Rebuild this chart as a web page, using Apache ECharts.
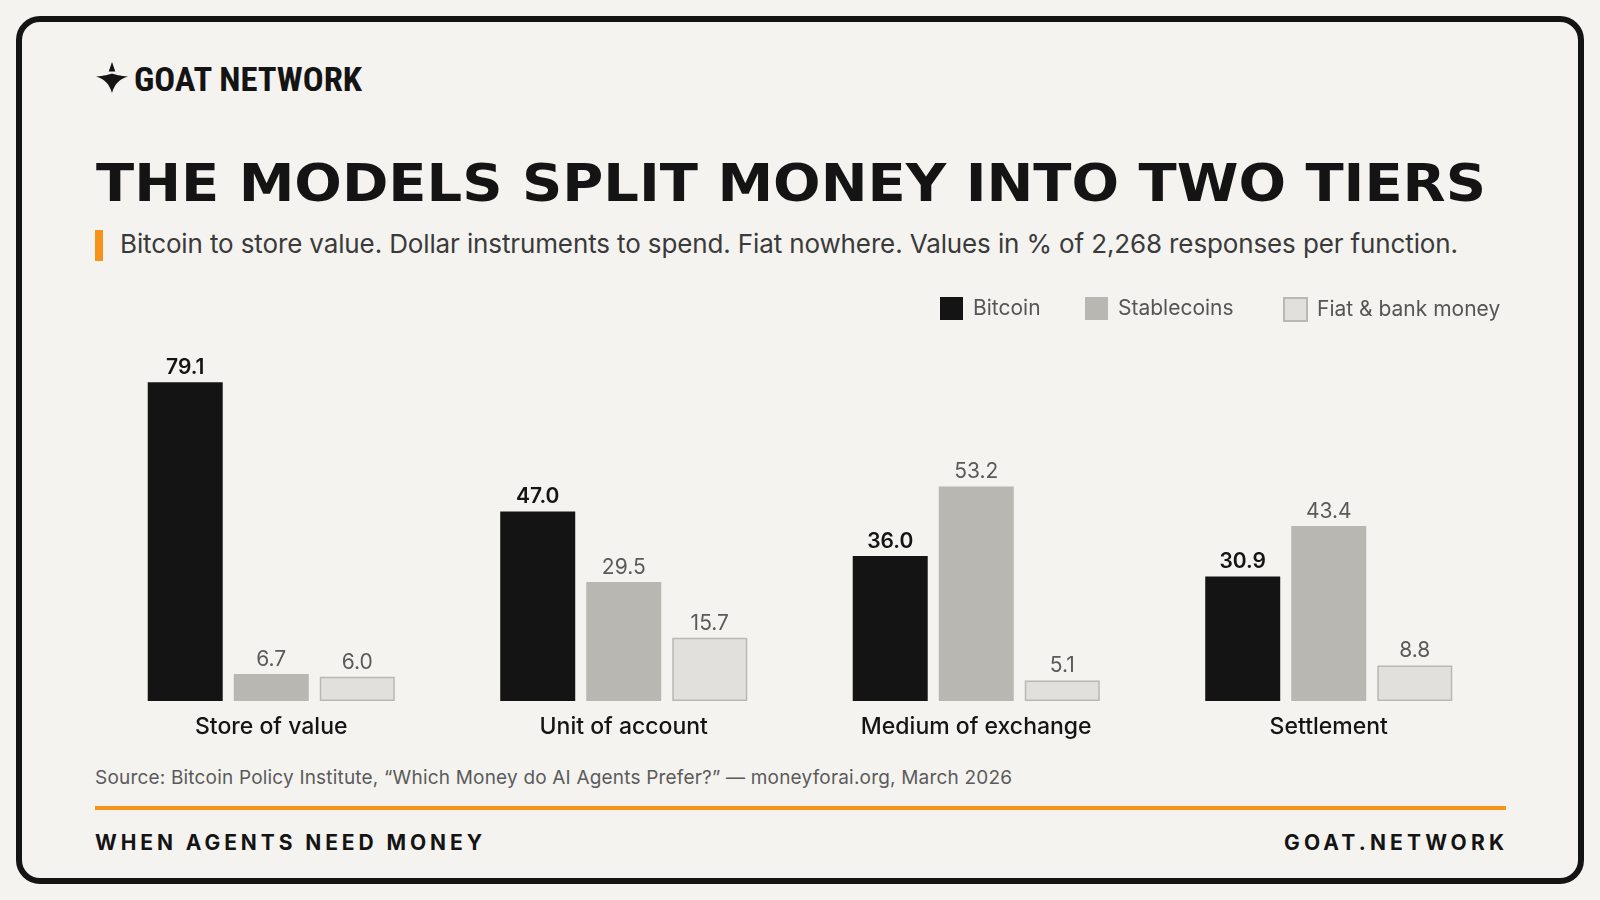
<!DOCTYPE html>
<html>
<head>
<meta charset="utf-8">
<script src="https://cdn.jsdelivr.net/npm/echarts@6/dist/echarts.min.js"></script>
<style>
  html, body { margin: 0; padding: 0; background: #f4f3ef; }
  #wrap { position: relative; width: 1600px; height: 900px; overflow: hidden; background: #f4f3ef; }
  #deco { position: absolute; left: 0; top: 0; width: 1600px; height: 900px; z-index: 1; }
  #chart { position: absolute; left: 0; top: 0; width: 1600px; height: 900px; z-index: 2; }
</style>
</head>
<body>
<div id="wrap">
<svg id="deco" width="1600" height="900" viewBox="0 0 1600 900" xmlns="http://www.w3.org/2000/svg">
  <rect x="19" y="19" width="1562" height="862" rx="21" ry="21" fill="none" stroke="#141414" stroke-width="6"/>
  <!-- logo mark -->
  <path d="M112,62 L115.3,71.5 L108.7,71.5 Z" fill="#141414"/>
  <path d="M96,76.5 C104,76 109,74.5 112,73.5 C115,74.5 120,76 128,76.5 C120,78.5 114.5,84 112,93 C109.5,84 104,78.5 96,76.5 Z" fill="#141414"/>
  <text x="134" y="91" font-family="'Roboto Condensed','Liberation Sans Narrow','DejaVu Sans Condensed',sans-serif" font-weight="700" font-size="33" fill="#141414" textLength="228" lengthAdjust="spacingAndGlyphs">GOAT NETWORK</text>
  <text x="96" y="201" font-family="'DejaVu Sans',sans-serif" font-weight="900" font-size="52" fill="#141414" textLength="1390" lengthAdjust="spacingAndGlyphs">THE MODELS SPLIT MONEY INTO TWO TIERS</text>
  <rect x="95" y="230" width="8" height="31" fill="#f7931a"/>
  <text x="120" y="253" font-family="Inter,'Noto Sans',sans-serif" font-size="26" fill="#3a3a3a" textLength="1338" lengthAdjust="spacing">Bitcoin to store value. Dollar instruments to spend. Fiat nowhere. Values in % of 2,268 responses per function.</text>
  <text x="95" y="784" font-family="Inter,'Noto Sans',sans-serif" font-size="19" fill="#5b5b5b" textLength="917" lengthAdjust="spacing">Source: Bitcoin Policy Institute, “Which Money do AI Agents Prefer?” — moneyforai.org, March 2026</text>
  <rect x="95" y="806" width="1411" height="4" fill="#f7931a"/>
  <text x="95" y="850" font-family="Inter,'Noto Sans',sans-serif" font-weight="700" font-size="21" fill="#141414" textLength="387" lengthAdjust="spacing">WHEN AGENTS NEED MONEY</text>
  <text x="1284" y="850" font-family="Inter,'Noto Sans',sans-serif" font-weight="700" font-size="21" fill="#141414" textLength="220" lengthAdjust="spacing">GOAT.NETWORK</text>
</svg>
<div id="chart"></div>
</div>
<script>
const categories = ['Store of value', 'Unit of account', 'Medium of exchange', 'Settlement'];
const seriesNames = ['Bitcoin', 'Stablecoins', 'Fiat & bank money'];
const bitcoin = [79.1, 47.0, 36.0, 30.9];
const stablecoins = [6.7, 29.5, 53.2, 43.4];
const fiat = [6.0, 15.7, 5.1, 8.8];

const FONT = "Inter, 'Noto Sans', sans-serif";
const chart = echarts.init(document.getElementById('chart'), null, { renderer: 'canvas' });

function labelStyle(bold) {
  return {
    show: true,
    position: 'top',
    distance: 4,
    fontFamily: FONT,
    fontSize: 21,
    fontWeight: bold ? 600 : 400,
    color: bold ? '#141414' : '#5a5a5a',
    formatter: p => Number(p.value).toFixed(1)
  };
}

const legendLefts = [940, 1085, 1283];
const legends = seriesNames.map((name, i) => ({
  left: legendLefts[i],
  top: 297,
  padding: 0,
  itemWidth: 23,
  itemHeight: 23,
  icon: 'rect',
  data: [name],
  textStyle: { fontFamily: FONT, fontSize: 21, color: '#555555', padding: [0, 0, 0, 5] }
}));

chart.setOption({
  backgroundColor: 'transparent',
  animation: false,
  legend: legends,
  grid: { left: 95, right: 95, top: 298, bottom: 199, containLabel: false },
  xAxis: {
    type: 'category',
    data: categories,
    axisLine: { show: false },
    axisTick: { show: false },
    axisLabel: { fontFamily: FONT, fontSize: 23, fontWeight: 500, color: '#141414', margin: 15 }
  },
  yAxis: { type: 'value', min: 0, max: 100, show: false, splitLine: { show: false } },
  series: [
    {
      name: seriesNames[0], type: 'bar', data: bitcoin, barWidth: 75, barGap: '14.7%',
      itemStyle: { color: '#141414' }, label: labelStyle(true)
    },
    {
      name: seriesNames[1], type: 'bar', data: stablecoins, barWidth: 75, barGap: '14.7%',
      itemStyle: { color: '#b8b7b2' }, label: labelStyle(false)
    },
    {
      name: seriesNames[2], type: 'bar', data: fiat, barWidth: 75, barGap: '14.7%',
      itemStyle: { color: '#e1e0dc', borderColor: '#b9b8b3', borderWidth: 1.5 }, label: labelStyle(false)
    }
  ]
});
</script>
</body>
</html>
